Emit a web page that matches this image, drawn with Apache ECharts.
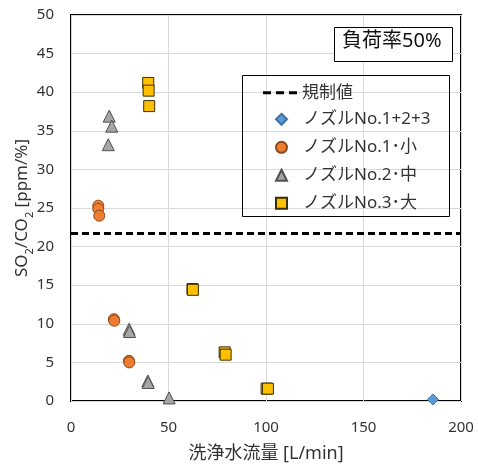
<!DOCTYPE html>
<html>
<head>
<meta charset="utf-8">
<script src="https://cdn.jsdelivr.net/npm/echarts@6/dist/echarts.min.js"></script>
<style>html,body{margin:0;padding:0;background:#fff}#c{width:478px;height:468px}</style>
</head>
<body>
<div id="c"></div>
<script>
const seriesNames = ['規制値', 'ノズルNo.1+2+3', 'ノズルNo.1･小', 'ノズルNo.2･中', 'ノズルNo.3･大'];
const limitValue = 21.7;
const xRange = [0, 200];
const nozzleAll = [[185.6, 0.2]];
const nozzleSmall = [[14.0, 25.3], [14.0, 24.9], [14.5, 24.0], [22.0, 10.6], [22.2, 10.4], [29.7, 5.2], [29.9, 5.0]];
const nozzleMid = [[19.6, 36.9], [20.9, 35.6], [19.1, 33.2], [29.8, 9.3], [30.0, 9.0], [39.4, 2.6], [39.6, 2.4], [50.3, 0.4]];
const nozzleLarge = [[39.6, 41.2], [39.8, 40.2], [40.1, 38.2], [62.3, 14.5], [62.5, 14.4], [78.8, 6.3], [79.3, 6.0], [100.3, 1.6], [101.0, 1.6]];
const loadLabel = '負荷率50%';

const font = "'Noto Sans', 'Noto Sans CJK JP', sans-serif";
const chart = echarts.init(document.getElementById('c'), null, {renderer: 'canvas'});
chart.setOption({
  animation: false,
  backgroundColor: '#fff',
  textStyle: {fontFamily: font},
  grid: {left: 71, right: 17, top: 15, bottom: 67, outerBoundsMode: 'none', containLabel: false,
    show: true, borderColor: '#000', borderWidth: 2, backgroundColor: 'transparent'},
  xAxis: {
    type: 'value', min: xRange[0], max: xRange[1], interval: 50,
    axisLine: {show: false}, axisTick: {show: false},
    splitLine: {lineStyle: {color: '#d9d9d9', width: 1}},
    axisLabel: {color: '#333', fontSize: 15, margin: 19, fontFamily: font},
    name: '洗浄水流量 [L/min]', nameLocation: 'middle', nameGap: 44, nameMoveOverlap: false,
    nameTextStyle: {color: '#333', fontSize: 18, fontFamily: font}
  },
  yAxis: {
    type: 'value', min: 0, max: 50, interval: 5,
    axisLine: {show: false}, axisTick: {show: false},
    splitLine: {lineStyle: {color: '#d9d9d9', width: 1}},
    axisLabel: {color: '#333', fontSize: 15, margin: 17, fontFamily: font},
    name: '{n|SO}{s|2}{n|/CO}{s|2}{n| [ppm/%]}', nameLocation: 'middle', nameGap: 40, nameRotate: 90, nameMoveOverlap: false,
    nameTextStyle: {
      color: '#333', fontSize: 17, fontFamily: font,
      rich: {
        n: {fontSize: 17, color: '#333', fontFamily: font, lineHeight: 22, verticalAlign: 'bottom'},
        s: {fontSize: 11, color: '#333', fontFamily: font, lineHeight: 22, verticalAlign: 'bottom', padding: [0, 0, -4, 0]}
      }
    }
  },
  legend: [
    {
      orient: 'vertical', left: 263, top: 83.7, padding: 0,
      itemWidth: 34, itemHeight: 3, itemGap: 10,
      textStyle: {color: '#333', fontSize: 17, fontFamily: font, lineHeight: 18},
      data: [{name: seriesNames[0], icon: 'path://M0,0h8v3h-8z M13,0h8v3h-8z M26,0h8v3h-8z', itemStyle: {color: '#000'}}]
    },
    {
      orient: 'vertical', left: 275, top: 110.3, padding: 0,
      itemWidth: 11, itemHeight: 11, itemGap: 10,
      textStyle: {color: '#333', fontSize: 17, fontFamily: font, lineHeight: 18, padding: [0, 0, 0, 11]},
      data: seriesNames.slice(1)
    }
  ],
  graphic: [
    {type: 'rect', left: 242, top: 75, shape: {width: 207, height: 141}, style: {fill: 'transparent', stroke: '#000', lineWidth: 1}, z: 1},
    {type: 'rect', left: 334, top: 27, shape: {width: 118, height: 34}, style: {fill: '#fff', stroke: '#000', lineWidth: 1}, z: 5},
    {type: 'text', left: 342, top: 31, style: {text: loadLabel, fill: '#111', font: "20px 'Noto Sans', 'Noto Sans CJK JP', sans-serif"}, z: 6}
  ],
  series: [
    {name: seriesNames[0], type: 'line', symbol: 'none', data: [[xRange[0], limitValue], [xRange[1], limitValue]],
      lineStyle: {color: '#000', width: 3, type: [7, 4]}, itemStyle: {color: '#000'}, z: 3},
    {name: seriesNames[1], type: 'scatter', symbol: 'diamond', symbolSize: 11, data: nozzleAll,
      itemStyle: {color: '#5B9BD5', borderColor: '#41719C', borderWidth: 1, opacity: 1}},
    {name: seriesNames[2], type: 'scatter', symbol: 'circle', symbolSize: 11, data: nozzleSmall,
      itemStyle: {color: '#ED7D31', borderColor: '#8a4a1c', borderWidth: 1, opacity: 1}},
    {name: seriesNames[3], type: 'scatter', symbol: 'triangle', symbolSize: 12, data: nozzleMid,
      itemStyle: {color: '#A5A5A5', borderColor: '#505050', borderWidth: 1, opacity: 1}},
    {name: seriesNames[4], type: 'scatter', symbol: 'rect', symbolSize: 11, data: nozzleLarge,
      itemStyle: {color: '#FFC000', borderColor: '#3a2f00', borderWidth: 1, opacity: 1}}
  ]
});
</script>
</body>
</html>
